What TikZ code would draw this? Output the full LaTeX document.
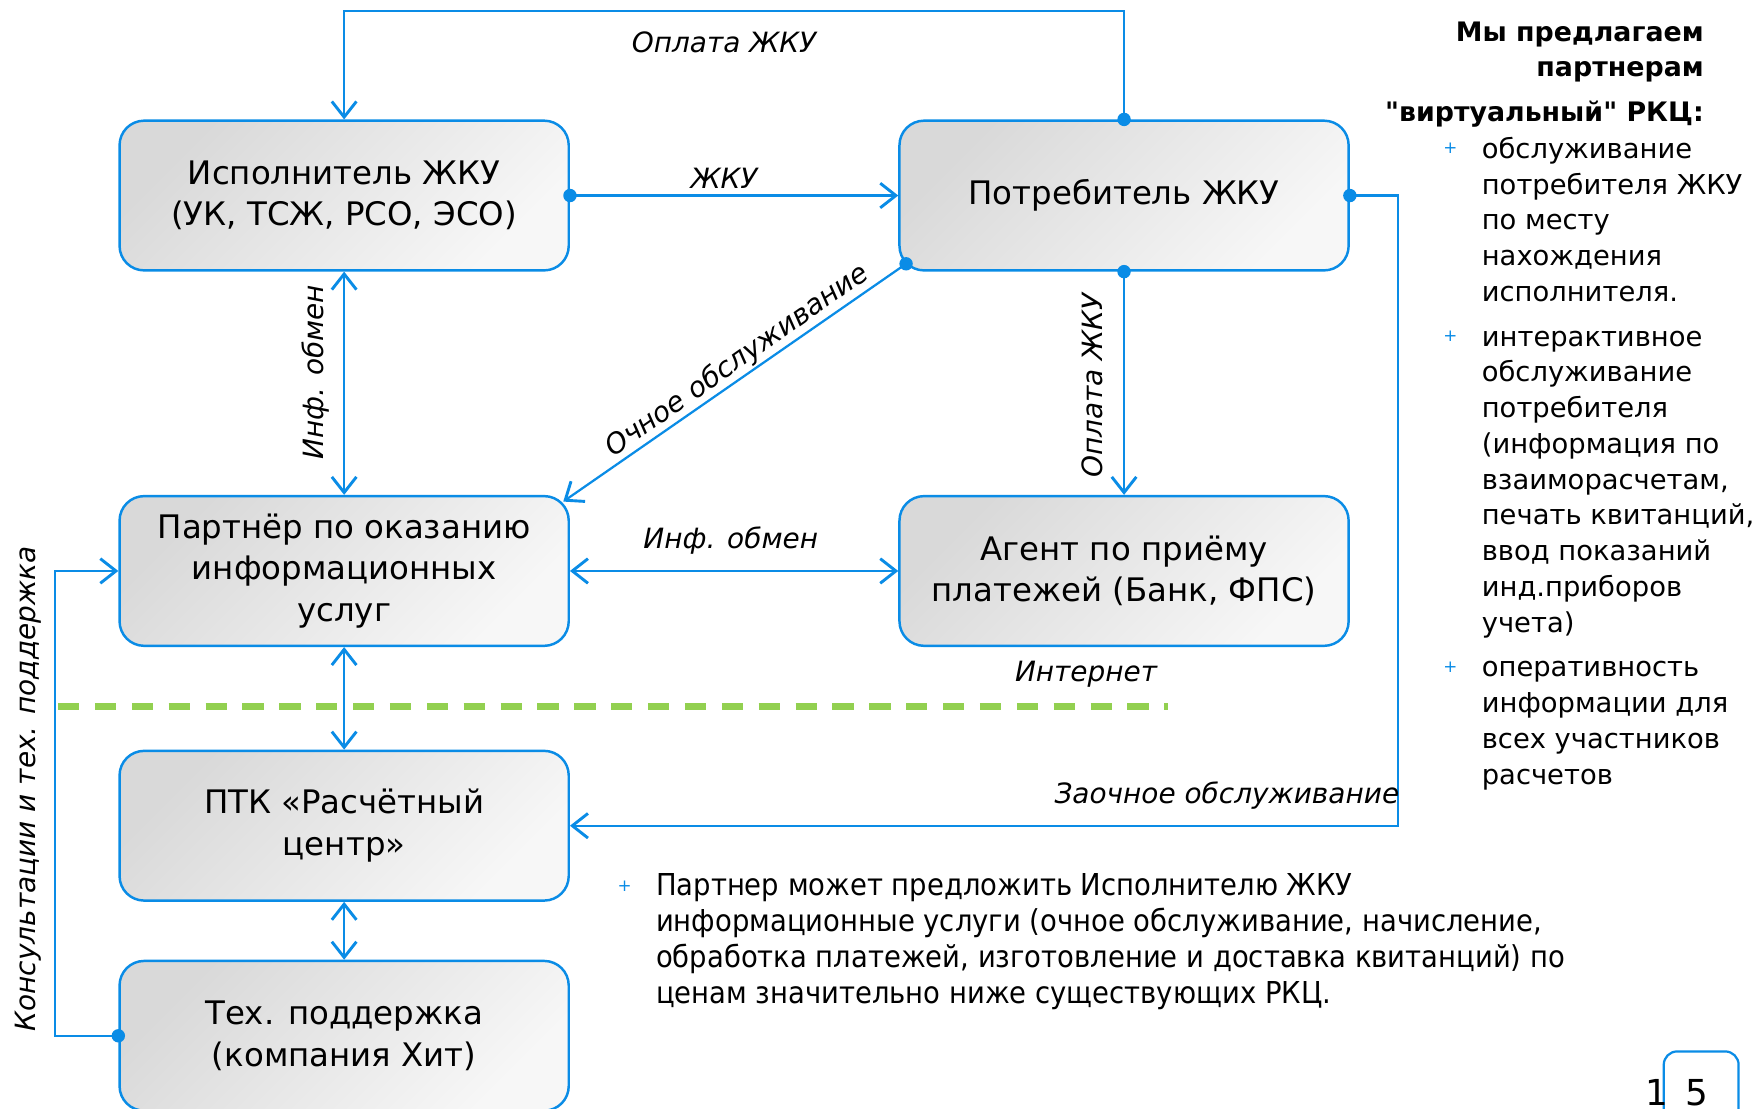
\documentclass[tikz,border=0pt]{standalone}
\usepackage{fontspec}
\setmainfont{DejaVu Sans}
\newfontfamily\narrowfont[FakeStretch=0.91]{DejaVu Sans}
\newfontfamily\qfont[Ligatures=TeXOff]{DejaVu Sans}
\usetikzlibrary{arrows.meta,calc}
\definecolor{lblue}{HTML}{0A8CE6}
\definecolor{lgreen}{HTML}{92D050}
\begin{document}
\begin{tikzpicture}[x=1pt,y=-1pt,
  box/.style={draw=lblue, line width=2.2pt, rounded corners=22pt, minimum width=402pt, minimum height=134pt,
    top color=black!15, bottom color=black!3, shading angle=45, align=center,
    font=\fontsize{29}{37}\selectfont, inner sep=0pt},
  conn/.style={draw=lblue, line width=2pt, >={Straight Barb[length=14pt,width=22pt,line width=2.6pt]}},
  lbl/.style={font=\fontsize{25}{28}\selectfont\itshape, inner sep=0pt},
  mydot/.style={circle, fill=lblue, inner sep=0pt, minimum size=12pt},
  plus/.style={text=lblue, font=\fontsize{15}{15}\selectfont, inner sep=0pt},
  rtxt/.style={anchor=mid west, font=\fontsize{24.5}{32}\selectfont, inner sep=0pt},
  htxt/.style={anchor=mid east, font=\fontsize{24}{32}\selectfont\bfseries, inner sep=0pt},
  btxt/.style={anchor=mid west, font=\narrowfont\fontsize{27}{32}\selectfont, inner sep=0pt}
]
\clip (0,0) rectangle (1568,992);
\fill[white] (0,0) rectangle (1568,992);

% boxes
\node[box] (B1) at (308,175) {Исполнитель ЖКУ\\(УК, ТСЖ, РСО, ЭСО)};
\node[box] (B2) at (1006,175) {Потребитель ЖКУ};
\node[box] (B3) at (308,511) {Партнёр по оказанию\\информационных\\услуг};
\node[box] (B4) at (1006,511) {Агент по приёму\\платежей (Банк, ФПС)};
\node[box] (B5) at (308,739) {ПТК «Расчётный\\центр»};
\node[box] (B6) at (308,927) {Тех. поддержка\\(компания Хит)};

% green dashed line
\coordinate (gA) at (52,632);
\coordinate (gB) at (1045,632);
\draw[lgreen, line width=6pt, dash pattern=on 19pt off 14pt] (gA) -- (gB);

% connectors
\coordinate (oc) at ($(B2.south west)+(7,-7)$);
\coordinate (b3ne) at ($(B3.north east)+(-6,6)$);
\draw[conn,->] (B2.north) -- ++(0,-97) -| (B1.north);
\draw[conn,->] (B1.east) -- (B2.west);
\draw[conn,<->] (B1.south) -- (B3.north);
\draw[conn,->] (oc) -- (b3ne);
\draw[conn,->] (B2.south) -- (B4.north);
\draw[conn,<->] (B3.east) -- (B4.west);
\draw[conn,<->] (B3.south) -- (B5.north);
\draw[conn,->] (B2.east) -- ++(43,0) |- (B5.east);
\draw[conn,<->] (B5.south) -- (B6.north);
\draw[conn,->] (B6.west) -- ++(-57,0) |- (B3.west);

\node[mydot] (d1) at (B2.north) {};
\node[mydot] (d2) at (B1.east) {};
\node[mydot] (d3) at (oc) {};
\node[mydot] (d4) at (B2.south) {};
\node[mydot] (d5) at (B2.east) {};
\node[mydot] (d6) at (B6.west) {};

% connector labels
\node[lbl] (l1) at (648,38) {Оплата ЖКУ};
\node[lbl] (l2) at (648,160) {ЖКУ};
\node[lbl, rotate=90] (l3) at (282,333) {Инф. обмен};
\node[lbl, rotate=35] (l4) at (660,323) {Очное обслуживание};
\node[lbl, rotate=90] (l5) at (978,345) {Оплата ЖКУ};
\node[lbl] (l6) at (654,484) {Инф. обмен};
\node[lbl] (l7) at (972,603) {Интернет};
\node[lbl] (l8) at (1098,712) {Заочное обслуживание};
\node[lbl, rotate=90] (l9) at (25,706) {Консультации и тех. поддержка};

% right header
\node[htxt] (h1) at (1525,34) {Мы предлагаем};
\node[htxt] (h2) at (1525,66) {партнерам};
\node[htxt] (h3) at (1525,106) {{\qfont\bfseries "}виртуальный{\qfont\bfseries "} РКЦ:};

% right bullets
\node[plus] (p1) at (1298,133) {+};
\node[plus] (p2) at (1298,301) {+};
\node[plus] (p3) at (1298,597) {+};
\node[rtxt] (r1) at (1326,139) {обслуживание};
\node[rtxt] (r2) at (1326,171) {потребителя ЖКУ};
\node[rtxt] (r3) at (1326,203) {по месту};
\node[rtxt] (r4) at (1326,235) {нахождения};
\node[rtxt] (r5) at (1326,267) {исполнителя.};
\node[rtxt] (r6) at (1326,307) {интерактивное};
\node[rtxt] (r7) at (1326,339) {обслуживание};
\node[rtxt] (r8) at (1326,371) {потребителя};
\node[rtxt] (r9) at (1326,403) {(информация по};
\node[rtxt] (r10) at (1326,435) {взаиморасчетам,};
\node[rtxt] (r11) at (1326,467) {печать квитанций,};
\node[rtxt] (r12) at (1326,499) {ввод показаний};
\node[rtxt] (r13) at (1326,531) {инд.приборов};
\node[rtxt] (r14) at (1326,563) {учета)};
\node[rtxt] (r15) at (1326,603) {оперативность};
\node[rtxt] (r16) at (1326,635) {информации для};
\node[rtxt] (r17) at (1326,667) {всех участников};
\node[rtxt] (r18) at (1326,699) {расчетов};

% bottom paragraph
\node[plus] (p4) at (559,793) {+};
\node[btxt] (t1) at (587,799) {Партнер может предложить Исполнителю ЖКУ};
\node[btxt] (t2) at (587,831) {информационные услуги (очное обслуживание, начисление,};
\node[btxt] (t3) at (587,863) {обработка платежей, изготовление и доставка квитанций) по};
\node[btxt] (t4) at (587,895) {ценам значительно ниже существующих РКЦ.};

% page number
\draw[lblue, line width=2pt, rounded corners=12pt] (1489,941) rectangle (1556,1012);
\node[font=\fontsize{32}{32}\selectfont, inner sep=0pt] (n1) at (1483,978) {1};
\node[font=\fontsize{32}{32}\selectfont, inner sep=0pt] (n2) at (1519,978) {5};
\end{tikzpicture}
\end{document}
